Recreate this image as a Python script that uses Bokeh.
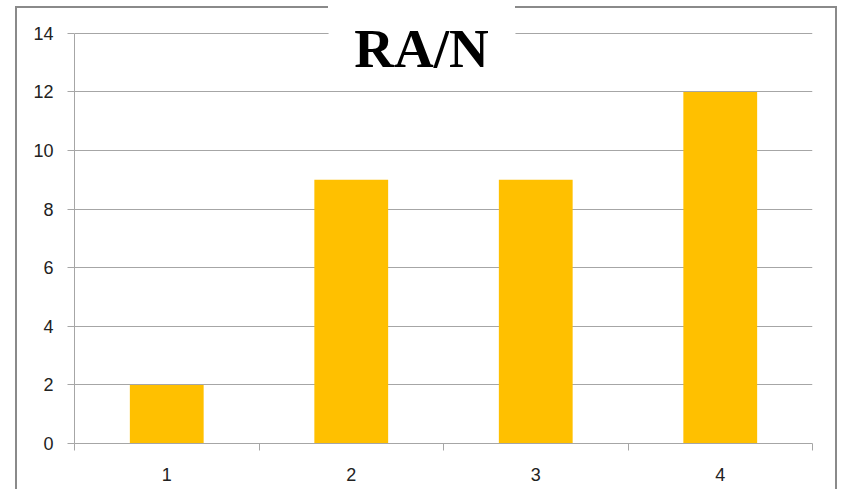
from bokeh.plotting import figure
from bokeh.models import Range1d, FixedTicker, Label, BoxAnnotation
from bokeh.embed import file_html
from bokeh.resources import INLINE

categories = [1, 2, 3, 4]
values = [2, 9, 9, 12]
y_ticks = [0, 2, 4, 6, 8, 10, 12, 14]
title_text = "RA/N"

p = figure(width=822, height=483, output_backend="svg", toolbar_location=None,
           x_range=Range1d(0.5, 4.5), y_range=Range1d(0, 14.2),
           min_border_left=59, min_border_right=25, min_border_top=21, min_border_bottom=46,
           margin=(6, 0, 0, 15))
p.styles = {
    "background": "linear-gradient(#8a8a8a, #8a8a8a) left top / 313px 2px no-repeat, "
                  "linear-gradient(#8a8a8a, #8a8a8a) right top / 322px 2px no-repeat",
    "box-shadow": "inset 2px 0 0 #8a8a8a, inset -2px 0 0 #8a8a8a",
}
p.border_fill_alpha = 0
p.background_fill_color = "white"
p.outline_line_color = None

p.vbar(x=categories, top=values, width=0.4, color="#FFC000", line_color=None)

p.xgrid.grid_line_color = None
p.ygrid.grid_line_color = "#a6a6a6"
p.ygrid.ticker = FixedTicker(ticks=y_ticks)

p.yaxis.ticker = FixedTicker(ticks=y_ticks)
p.yaxis.bounds = (0, 14)
p.yaxis.axis_line_color = "#a6a6a6"
p.yaxis.major_tick_line_color = "#a6a6a6"
p.yaxis.major_tick_out = 7
p.yaxis.major_tick_in = 0
p.yaxis.minor_tick_line_color = None
p.yaxis.major_label_standoff = 14
p.yaxis.major_label_text_font = "Liberation Sans"
p.yaxis.major_label_text_font_size = "18px"
p.yaxis.major_label_text_color = "#222222"

p.xaxis.ticker = FixedTicker(ticks=categories, minor_ticks=[0.5, 1.5, 2.5, 3.5, 4.5])
p.xaxis.axis_line_color = "#a6a6a6"
p.xaxis.major_tick_line_color = None
p.xaxis.major_tick_out = 0
p.xaxis.major_tick_in = 0
p.xaxis.minor_tick_line_color = "#a6a6a6"
p.xaxis.minor_tick_out = 7
p.xaxis.minor_tick_in = 0
p.xaxis.major_label_standoff = 17
p.xaxis.major_label_text_font = "Liberation Sans"
p.xaxis.major_label_text_font_size = "18px"
p.xaxis.major_label_text_color = "#222222"

# white box behind the title that interrupts the top gridline
p.add_layout(BoxAnnotation(left=1.877, right=2.890, bottom=12.3, top=14.2,
                           fill_color="white", fill_alpha=1, line_color=None))

title = Label(x=2.381, y=13.49, text=title_text, text_align="center",
              text_baseline="alphabetic", text_font="Liberation Serif",
              text_font_style="bold", text_font_size="55px", text_color="black")
p.add_layout(title)

open("out.html", "w").write(file_html(p, INLINE))
